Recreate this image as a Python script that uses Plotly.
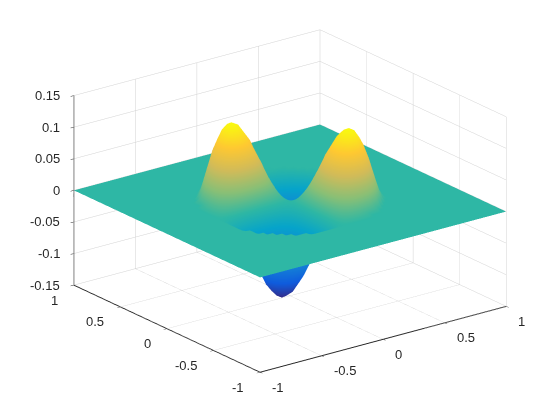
import numpy as np
import plotly.graph_objects as go

# grid coordinates on the positive side, the rest is mirrored
axis_pos = [0.054, 0.109, 0.163, 0.217, 0.272, 0.315, 0.359, 0.402, 0.445, 0.489, 0.532]

# height read for x, y > 0 (rows x, columns y), the sheet is flat outside this block
z_block = [
    [.0110, .0209, .0287, .0345, .0370, .0366, .0336, .0281, .0212, .0138, .0063],
    [.0209, .0391, .0553, .0656, .0703, .0693, .0633, .0527, .0393, .0248, .0106],
    [.0287, .0553, .0762, .0903, .0969, .0946, .0855, .0704, .0516, .0310, .0111],
    [.0345, .0656, .0903, .1067, .1136, .1107, .0983, .0794, .0563, .0308, .0069],
    [.0370, .0703, .0969, .1136, .1200, .1145, .1003, .0786, .0520, .0240, 0],
    [.0366, .0693, .0946, .1107, .1145, .1080, .0917, .0684, .0398, .0109, 0],
    [.0336, .0633, .0855, .0983, .1003, .0917, .0745, .0492, .0212, 0, 0],
    [.0281, .0527, .0704, .0794, .0786, .0684, .0492, .0251, 0, 0, 0],
    [.0212, .0393, .0516, .0563, .0520, .0398, .0212, 0, 0, 0, 0],
    [.0138, .0248, .0310, .0308, .0240, .0109, 0, 0, 0, 0, 0],
    [.0063, .0106, .0111, .0069, 0, 0, 0, 0, 0, 0, 0],
]

xy_ticks = [-1, -0.5, 0, 0.5, 1]
xy_labels = ["-1", "-0.5", "0", "0.5", "1"]
z_ticks = [-0.15, -0.1, -0.05, 0, 0.05, 0.1, 0.15]
z_labels = ["-0.15", "-0.1", "-0.05", "0", "0.05", "0.1", "0.15"]

parula = ["#352A87", "#0F5CDD", "#1481D6", "#06A4CA", "#2EB7A4",
          "#87BF77", "#D1BB59", "#FEC832", "#F9FB0E"]

# mirror the block: troughs where x*y > 0, peaks where x*y < 0
block = np.array(z_block)
top = np.hstack([-block[::-1, ::-1], np.zeros((11, 1)), block[::-1, :]])
mid = np.zeros((1, 23))
bot = np.hstack([block[:, ::-1], np.zeros((11, 1)), -block])
inner = np.vstack([top, mid, bot])
z = np.pad(inner, 2)
pos = np.array(axis_pos)
coords = np.concatenate([[-1, -0.575], -pos[::-1], [0], pos, [0.575, 1]])

fig = go.Figure(go.Surface(
    x=coords, y=coords, z=z,
    cmin=-0.12, cmax=0.12,
    colorscale=[[i / 8, c] for i, c in enumerate(parula)],
    showscale=False,
    hoverinfo="skip",
    lighting=dict(ambient=1, diffuse=0, specular=0, roughness=1, fresnel=0),
))


def axis_style(ticks, rng):
    return dict(
        title="", range=rng, tickmode="array", tickvals=ticks,
        showticklabels=False,
        showbackground=False, showgrid=True, gridcolor="#D2D2D2", gridwidth=1,
        zeroline=False, showline=True, linecolor="#262626", linewidth=2,
        ticks="outside", ticklen=4, tickcolor="#262626", showspikes=False,
    )


# tick labels as annotations, the native ones cannot be right aligned
label_font = dict(family="Liberation Sans", size=13, color="#262626")
notes = []
for t, s in zip(z_ticks, z_labels):
    notes.append(dict(x=-1, y=1, z=t, text=s, showarrow=False, font=label_font,
                      xanchor="right", yanchor="middle", xshift=-12, yshift=0))
for t, s in zip(xy_ticks, xy_labels):
    notes.append(dict(x=-1, y=t, z=z_ticks[0], text=s, showarrow=False, font=label_font,
                      xanchor="right", yanchor="middle", xshift=-14, yshift=-15))
    notes.append(dict(x=t, y=-1, z=z_ticks[0], text=s, showarrow=False, font=label_font,
                      xanchor="left", yanchor="middle", xshift=10, yshift=-15))

center = dict(x=-0.038, y=0.029, z=-0.046)
view_dir = dict(x=-0.5638, y=-0.7455, z=0.3535)
eye_len = 1.355
fig.update_layout(
    width=560, height=420,
    margin=dict(l=0, r=0, t=0, b=0),
    paper_bgcolor="white",
    scene=dict(
        domain=dict(x=[0, 1], y=[0, 1]),
        xaxis=axis_style(xy_ticks, [-1, 1]),
        yaxis=axis_style(xy_ticks, [-1, 1]),
        zaxis=axis_style(z_ticks, [-0.15, 0.15]),
        aspectmode="manual",
        aspectratio=dict(x=1.47, y=1.47, z=0.965),
        annotations=notes,
        camera=dict(
            projection=dict(type="orthographic"),
            eye={k: center[k] + view_dir[k] * eye_len for k in center},
            center=center,
            up=dict(x=0, y=0, z=1),
        ),
    ),
)

fig.write_html("out.html", config=dict(displayModeBar=False),
               post_script="document.body.style.margin='0';")
